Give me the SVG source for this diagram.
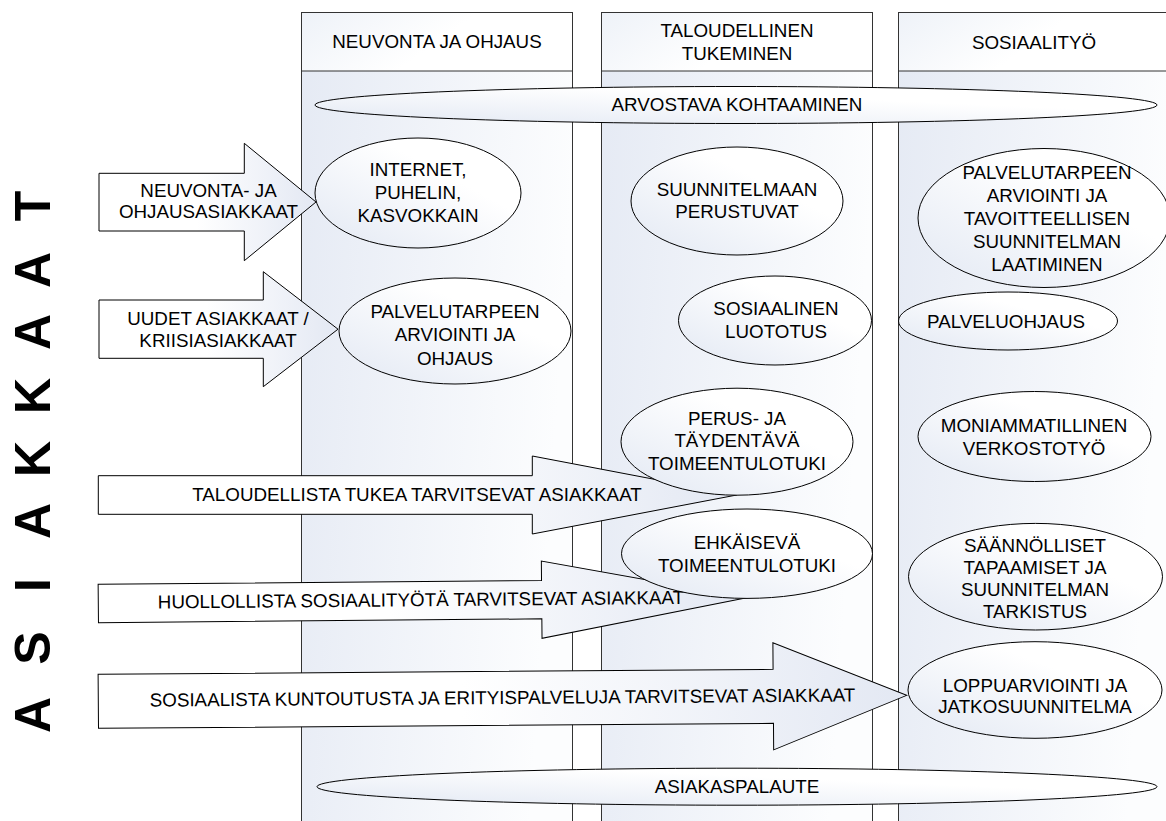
<svg xmlns="http://www.w3.org/2000/svg" width="1166" height="821" viewBox="0 0 1166 821">
<defs>
<linearGradient id="laneGrad" x1="0" y1="0" x2="1" y2="0.2">
<stop offset="0" stop-color="#e5eaf4"/>
<stop offset="1" stop-color="#fcfdfe"/>
</linearGradient>
<linearGradient id="headGrad" x1="0" y1="0" x2="1" y2="0.3">
<stop offset="0" stop-color="#eef2f8"/>
<stop offset="0.6" stop-color="#ffffff"/>
</linearGradient>
<linearGradient id="ellGrad" x1="0" y1="1" x2="1" y2="0">
<stop offset="0" stop-color="#e2e8f3"/>
<stop offset="0.65" stop-color="#ffffff"/>
</linearGradient>
<linearGradient id="arrGrad" x1="0" y1="0" x2="1" y2="0">
<stop offset="0" stop-color="#ffffff"/>
<stop offset="0.45" stop-color="#ffffff"/>
<stop offset="1" stop-color="#e3e8f3"/>
</linearGradient>
</defs>
<style>
text{font-family:"Liberation Sans",Arial,sans-serif;font-size:18.8px;fill:#000;text-anchor:middle}
.lane{fill:url(#laneGrad);stroke:#333;stroke-width:1}
.head{fill:url(#headGrad);stroke:#333;stroke-width:1}
.ell{fill:url(#ellGrad);stroke:#000;stroke-width:1}
.arr{fill:url(#arrGrad);stroke:#000;stroke-width:1}
.big{font-size:50px;font-weight:bold;text-anchor:start}
</style>
<rect width="1166" height="821" fill="#ffffff"/>

<g id="lane-neuvonta">
<rect class="lane" x="301.5" y="12.5" width="271" height="830"/>
<rect class="head" x="301.5" y="12.5" width="271" height="58.5"/>
<text x="437" y="48.4">NEUVONTA JA OHJAUS</text>
</g>
<g id="lane-taloudellinen">
<rect class="lane" x="601.5" y="12.5" width="271" height="830"/>
<rect class="head" x="601.5" y="12.5" width="271" height="58.5"/>
<text x="737" y="37.2">TALOUDELLINEN</text>
<text x="737" y="59.9">TUKEMINEN</text>
</g>
<g id="lane-sosiaalityo">
<rect class="lane" x="898.5" y="12.5" width="271" height="830"/>
<rect class="head" x="898.5" y="12.5" width="271" height="58.5"/>
<text x="1034" y="48.7">SOSIAALITYÖ</text>
</g>

<g id="asiakkaat-label">
<text class="big" transform="rotate(-90)" y="50"><tspan x="-733.05">A </tspan><tspan x="-664.7">S </tspan><tspan x="-591.95">I </tspan><tspan x="-539.05">A </tspan><tspan x="-477.05">K </tspan><tspan x="-414.05">K </tspan><tspan x="-350.05">A </tspan><tspan x="-288.05">A </tspan><tspan x="-221.3">T</tspan></text>
</g>

<g id="connectors">
<g id="arrow-neuvonta">
<polygon class="arr" points="99,173.3 244.3,173.3 244.3,143.3 316,202 244.3,260.7 244.3,231 99,231"/>
<text x="208.5" y="196.7">NEUVONTA- JA</text>
<text x="208.5" y="217.7">OHJAUSASIAKKAAT</text>
</g>
<g id="arrow-uudet">
<polygon class="arr" points="99,300 263.3,300 263.3,271.7 338,329.2 263.3,386.7 263.3,358.3 99,358.3"/>
<text x="218" y="325">UUDET ASIAKKAAT /</text>
<text x="218" y="346.7">KRIISIASIAKKAAT</text>
</g>
<g id="arrow-taloudellista">
<polygon class="arr" points="98.3,475.7 532.3,475.7 532.3,456 736.7,495 532.3,534 532.3,514.3 98.3,514.3"/>
<text x="417" y="501.2">TALOUDELLISTA TUKEA TARVITSEVAT ASIAKKAAT</text>
</g>
<g id="arrow-huollollista" transform="rotate(-0.5 98.3 603.5)">
<polygon class="arr" points="98.3,584.3 541.7,584.3 541.7,564.85 746.7,603.5 541.7,642.15 541.7,622.7 98.3,622.7"/>
<text x="421" y="609">HUOLLOLLISTA SOSIAALITYÖTÄ TARVITSEVAT ASIAKKAAT</text>
</g>
<g id="arrow-sosiaalista" transform="rotate(-0.42 98.3 701.3)">
<polygon class="arr" points="98.3,674.3 773.3,674.3 773.3,647.8 906.7,701.3 773.3,754.8 773.3,728.3 98.3,728.3"/>
<text x="502.5" y="707">SOSIAALISTA KUNTOUTUSTA JA ERITYISPALVELUJA TARVITSEVAT ASIAKKAAT</text>
</g>
</g>

<g id="arvostava-kohtaaminen">
<ellipse class="ell" cx="736" cy="105" rx="421" ry="18.5"/>
<text x="737" y="110.7">ARVOSTAVA KOHTAAMINEN</text>
</g>
<g id="internet-puhelin">
<ellipse class="ell" cx="418" cy="193" rx="103" ry="55"/>
<text x="418" y="176">INTERNET,</text>
<text x="418" y="199">PUHELIN,</text>
<text x="418" y="222">KASVOKKAIN</text>
</g>
<g id="palvelutarpeen-ohjaus">
<ellipse class="ell" cx="455" cy="331" rx="116" ry="53"/>
<text x="455" y="317.7">PALVELUTARPEEN</text>
<text x="455" y="341.2">ARVIOINTI JA</text>
<text x="455" y="364.7">OHJAUS</text>
</g>
<g id="suunnitelmaan-perustuvat">
<ellipse class="ell" cx="737" cy="201" rx="106" ry="54"/>
<text x="737" y="196">SUUNNITELMAAN</text>
<text x="737" y="218.4">PERUSTUVAT</text>
</g>
<g id="sosiaalinen-luototus">
<ellipse class="ell" cx="775" cy="320.5" rx="96.5" ry="44.5"/>
<text x="776" y="314.7">SOSIAALINEN</text>
<text x="776" y="338.4">LUOTOTUS</text>
</g>
<g id="perus-toimeentulotuki">
<ellipse class="ell" cx="737" cy="441.7" rx="116" ry="53.5"/>
<text x="737" y="425">PERUS- JA</text>
<text x="737" y="447.4">TÄYDENTÄVÄ</text>
<text x="737" y="470">TOIMEENTULOTUKI</text>
</g>
<g id="ehkaiseva-toimeentulotuki">
<ellipse class="ell" cx="747" cy="553.7" rx="125.5" ry="44.7"/>
<text x="747" y="549.4">EHKÄISEVÄ</text>
<text x="747" y="571.7">TOIMEENTULOTUKI</text>
</g>
<g id="palvelutarpeen-suunnitelma">
<ellipse class="ell" cx="1044" cy="218" rx="126" ry="69.5"/>
<text x="1047" y="179.2">PALVELUTARPEEN</text>
<text x="1047" y="202">ARVIOINTI JA</text>
<text x="1047" y="225.4">TAVOITTEELLISEN</text>
<text x="1047" y="247.5">SUUNNITELMAN</text>
<text x="1047" y="270.9">LAATIMINEN</text>
</g>
<g id="palveluohjaus">
<ellipse class="ell" cx="1008" cy="321" rx="109.5" ry="29"/>
<text x="1006" y="327.7">PALVELUOHJAUS</text>
</g>
<g id="moniammatillinen">
<ellipse class="ell" cx="1034.5" cy="436.5" rx="116.5" ry="45"/>
<text x="1034" y="431.7">MONIAMMATILLINEN</text>
<text x="1034" y="455">VERKOSTOTYÖ</text>
</g>
<g id="saannolliset-tapaamiset">
<ellipse class="ell" cx="1035.5" cy="576.7" rx="127" ry="53.3"/>
<text x="1035" y="551.7">SÄÄNNÖLLISET</text>
<text x="1035" y="573.9">TAPAAMISET JA</text>
<text x="1035" y="596.1">SUUNNITELMAN</text>
<text x="1035" y="618.3">TARKISTUS</text>
</g>
<g id="loppuarviointi">
<ellipse class="ell" cx="1035" cy="690" rx="127" ry="48.3"/>
<text x="1035" y="691.7">LOPPUARVIOINTI JA</text>
<text x="1035" y="713.4">JATKOSUUNNITELMA</text>
</g>
<g id="asiakaspalaute">
<ellipse class="ell" cx="737" cy="786.7" rx="420" ry="18.5"/>
<text x="737" y="793.4">ASIAKASPALAUTE</text>
</g>
</svg>
